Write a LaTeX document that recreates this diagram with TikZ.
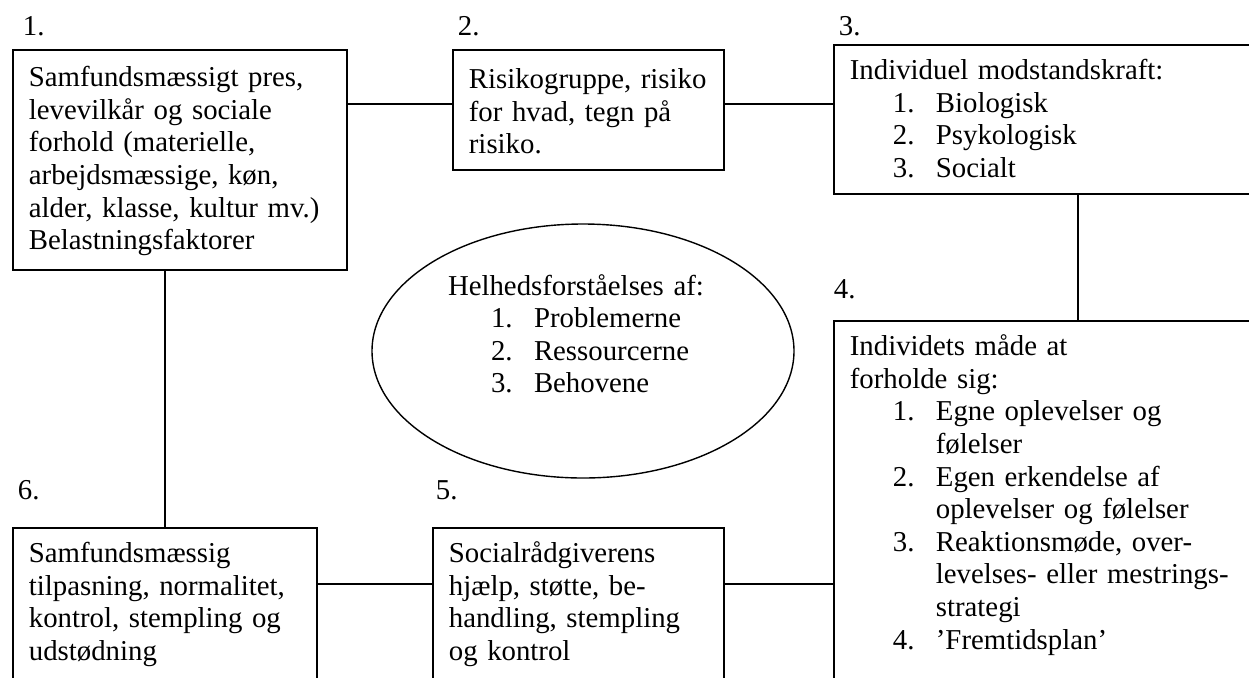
\documentclass[tikz,border=0pt]{standalone}
\usepackage{fontspec}
\setmainfont{Liberation Serif}
\usetikzlibrary{shapes.geometric}
\newcommand{\itm}[2]{\hspace*{21.5pt}\makebox[21.5pt][l]{#1}#2}
\newcommand{\cont}[1]{\hspace*{43pt}#1}

\begin{document}
\begin{tikzpicture}[x=0.5pt, y=-0.5pt, line width=0.9pt,
  every node/.style={font=\fontsize{14.4}{16.3}\selectfont},
  box/.style={draw, anchor=north west, align=left, inner xsep=8pt, inner ysep=6pt,
    execute at begin node=\strut},
  lab/.style={anchor=base west, inner sep=0pt}]
  \useasboundingbox (0,0) rectangle (1249,677);
  \clip (0,0) rectangle (1249,677);
  % Numbers
  \node[lab] (lab1) at (22,35) {1.};
  \node[lab] (lab2) at (457,35) {2.};
  \node[lab] (lab3) at (838,35) {3.};
  \node[lab] (lab4) at (833,298) {4.};
  \node[lab] (lab5) at (435,499) {5.};
  \node[lab] (lab6) at (17,499) {6.};
  % Boxes
  \node[box, text width=151pt, minimum height=110pt] (box1) at (12,49)
    {Samfundsmæssigt pres,\\levevilkår og sociale\\forhold (materielle,\\arbejdsmæssige, køn,\\alder, klasse, kultur mv.)\\Belastningsfaktorer};
  \node[box, text width=119.5pt, minimum height=60pt] (box2) at (452,49)
    {Risikogruppe, risiko\\for hvad, tegn på\\risiko.};
  \node[box, text width=228pt, text depth=51pt] (box3) at (833,44)
    {Individuel modstandskraft:\\\itm{1.}{Biologisk}\\\itm{2.}{Psykologisk}\\\itm{3.}{Socialt}};
  \node[box, text width=228pt, text depth=200pt] (box4) at (833,320)
    {Individets måde at\\forholde sig:\\\itm{1.}{Egne oplevelser og}\\\cont{følelser}\\\itm{2.}{Egen erkendelse af}\\\cont{oplevelser og følelser}\\\itm{3.}{Reaktionsmøde, over-}\\\cont{levelses- eller mestrings-}\\\cont{strategi}\\\itm{4.}{’Fremtidsplan’}};
  \node[box, text width=129.5pt, text depth=90pt] (box5) at (432,527)
    {Socialrådgiverens\\hjælp, støtte, be-\\handling, stempling\\og kontrol};
  \node[box, text width=136pt, text depth=90pt] (box6) at (12,527)
    {Samfundsmæssig\\tilpasning, normalitet,\\kontrol, stempling og\\udstødning};
  % Ellipse
  \node[ellipse, draw, line width=0.7pt, minimum width=211pt, minimum height=127pt,
    inner sep=0pt, text width=135pt, align=left, text depth=67.4pt,
    execute at begin node=\strut] (whole) at (583,351)
    {Helhedsforståelses af:\\\itm{1.}{Problemerne}\\\itm{2.}{Ressourcerne}\\\itm{3.}{Behovene}};
  % Connectors
  \coordinate (toprow) at (0,104);
  \coordinate (botrow) at (0,584);
  \draw (box1.east |- toprow) -- (box2.west |- toprow);
  \draw (box2.east |- toprow) -- (box3.west |- toprow);
  \draw (box3.south) -- (box4.north);
  \draw (box4.west |- botrow) -- (box5.east |- botrow);
  \draw (box5.west |- botrow) -- (box6.east |- botrow);
  \draw (box1.south -| box6.north) -- (box6.north);
\end{tikzpicture}
\end{document}
